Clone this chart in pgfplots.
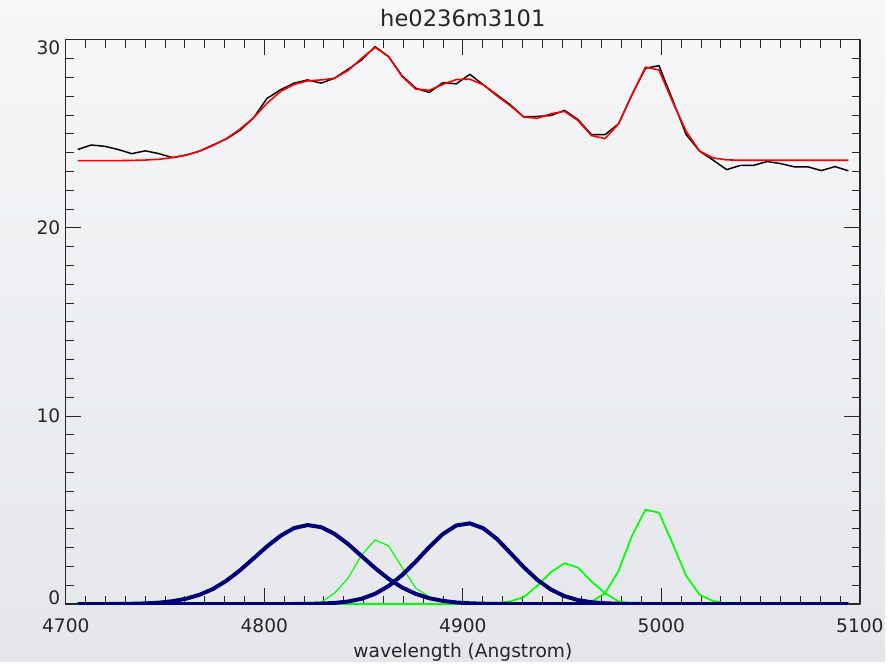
\documentclass[border=0pt]{standalone}
\usepackage{fontspec}
\setmainfont{DejaVu Sans}
\usepackage{pgfplots}
\pgfplotsset{compat=1.18}
\usepackage{pgfplotstable}
\usetikzlibrary{backgrounds}

\definecolor{idlnavy}{RGB}{0,0,120}
\definecolor{idlgreen}{RGB}{0,255,0}
\definecolor{idlred}{RGB}{255,0,0}
\definecolor{bgtop}{RGB}{247,247,249}
\definecolor{bgbot}{RGB}{229,230,235}

\pgfplotstableread{
x      black  red    gA    gB    gC    bA     bB
4706.0 24.17 23.58 0     0     0     0.000  0
4712.8 24.41 23.58 0     0     0     0.001  0
4719.6 24.34 23.58 0     0     0     0.002  0
4726.4 24.17 23.58 0     0     0     0.006  0
4733.2 23.95 23.59 0     0     0     0.015  0
4740.1 24.10 23.61 0     0     0     0.034  0
4746.9 23.95 23.65 0     0     0     0.073  0
4753.7 23.74 23.74 0     0     0     0.15   0
4760.5 23.87 23.87 0     0     0     0.28   0
4767.3 24.08 24.08 0     0     0     0.49   0
4774.1 24.41 24.38 0     0     0     0.80   0
4780.9 24.73 24.75 0     0     0     1.24   0
4787.7 25.19 25.25 0     0     0     1.79   0
4794.5 25.84 25.85 0     0     0     2.42   0
4801.3 26.88 26.62 0     0     0     3.06   0
4808.2 27.35 27.26 0     0     0     3.63   0.001
4815.0 27.70 27.63 0     0     0     4.04   0.003
4821.8 27.87 27.82 0     0     0     4.20   0.009
4828.6 27.70 27.87 0.10  0     0     4.09   0.024
4835.4 27.96 27.96 0.58  0     0     3.73   0.059
4842.2 28.44 28.37 1.38  0     0     3.19   0.135
4849.0 28.93 29.02 2.61  0     0     2.55   0.28
4855.8 29.64 29.60 3.41  0     0     1.91   0.545
4862.6 29.11 29.11 3.09  0     0     1.34   0.96
4869.4 28.09 28.05 1.95  0     0     0.88   1.54
4876.3 27.43 27.38 0.85  0     0     0.54   2.26
4883.1 27.20 27.32 0.38  0     0     0.31   3.03
4889.9 27.73 27.63 0.12  0     0     0.17   3.72
4896.7 27.66 27.89 0.03  0     0     0.084  4.18
4903.5 28.17 27.91 0     0     0     0.040  4.29
4910.3 27.61 27.61 0     0     0     0.018  4.03
4917.1 27.08 27.03 0     0.03  0     0.007  3.47
4923.9 26.55 26.50 0     0.14  0     0.003  2.72
4930.7 25.90 25.90 0     0.37  0     0      1.96
4937.5 25.93 25.83 0     0.97  0     0      1.29
4944.4 25.98 26.07 0     1.70  0     0      0.77
4951.2 26.25 26.20 0     2.17  0     0      0.42
4958.0 25.76 25.71 0     1.94  0.03  0      0.21
4964.8 24.96 24.91 0     1.20  0.14  0      0.098
4971.6 24.96 24.75 0     0.58  0.57  0      0.041
4978.4 25.53 25.53 0     0.14  1.76  0      0.016
4985.2 27.08 27.08 0     0.03  3.63  0      0.006
4992.0 28.49 28.55 0     0     5.02  0      0.002
4998.8 28.63 28.40 0     0     4.86  0      0
5005.6 26.82 26.72 0     0     3.23  0      0
5012.5 24.96 25.13 0     0     1.50  0      0
5019.3 24.08 24.08 0     0     0.49  0      0
5026.1 23.60 23.72 0     0     0.16  0      0
5032.9 23.10 23.62 0     0     0.04  0      0
5039.7 23.32 23.60 0     0     0     0      0
5046.5 23.33 23.60 0     0     0     0      0
5053.3 23.53 23.60 0     0     0     0      0
5060.1 23.42 23.60 0     0     0     0      0
5066.9 23.25 23.60 0     0     0     0      0
5073.7 23.25 23.60 0     0     0     0      0
5080.6 23.05 23.60 0     0     0     0      0
5087.4 23.26 23.60 0     0     0     0      0
5094.2 23.04 23.60 0     0     0     0      0
}\spec

\begin{document}
\begin{tikzpicture}
\begin{axis}[
  name=ax,
  scale only axis,
  width=597.5pt, height=424.5pt,
  xmin=4700, xmax=5100, ymin=0, ymax=30,
  xtick={4700,4800,4900,5000,5100},
  xticklabels={4700,4800,4900,5000,5100},
  ytick={0,10,20,30},
  yticklabels={\smash{\raisebox{-0.6pt}{0}},\smash{\raisebox{-5.1pt}{10}},\smash{\raisebox{-5.1pt}{20}},\smash{\raisebox{-10.7pt}{30}}},
  minor x tick num=9, minor y tick num=9,
  tick align=inside,
  major tick length=11.75pt, minor tick length=6pt,
  every tick/.style={black!85, line width=0.7pt},
  axis line style={line width=0.9pt, black!85},
  tick label style={font=\fontsize{14}{16}\selectfont, text=black!85},
  xticklabel style={yshift=-7.5pt},
  yticklabel style={xshift=-0.6pt},
  title={he0236m3101},
  title style={font=\fontsize{17}{20}\selectfont, text=black!85, at={(axis description cs:0.5,1)}, anchor=base, yshift=4pt},
  xlabel={wavelength (Angstrom)},
  xlabel style={font=\fontsize{14}{16}\selectfont, text=black!85, at={(axis description cs:0.5,0)}, anchor=base, yshift=-40.5pt},
  line join=round,
]
\addplot[black, line width=1.1pt, mark=none] table[x=x, y=black] {\spec};
\addplot[idlred, line width=1.2pt, mark=none] table[x=x, y=red] {\spec};
\addplot[idlgreen, line width=0.9pt, mark=none] table[x=x, y=gA] {\spec};
\addplot[idlgreen, line width=1.3pt, mark=none] table[x=x, y=gB] {\spec};
\addplot[idlgreen, line width=1.3pt, mark=none] table[x=x, y=gC] {\spec};
\addplot[idlnavy, line width=3pt, mark=none] table[x=x, y=bA] {\spec};
\addplot[idlnavy, line width=3pt, mark=none] table[x=x, y=bB] {\spec};
\end{axis}
\begin{scope}[on background layer]
\shade[top color=bgtop, bottom color=bgbot]
  ([xshift=-49.5pt,yshift=-43.5pt]ax.south west) rectangle ([xshift=19pt,yshift=30pt]ax.north east);
\end{scope}
\end{tikzpicture}
\end{document}
